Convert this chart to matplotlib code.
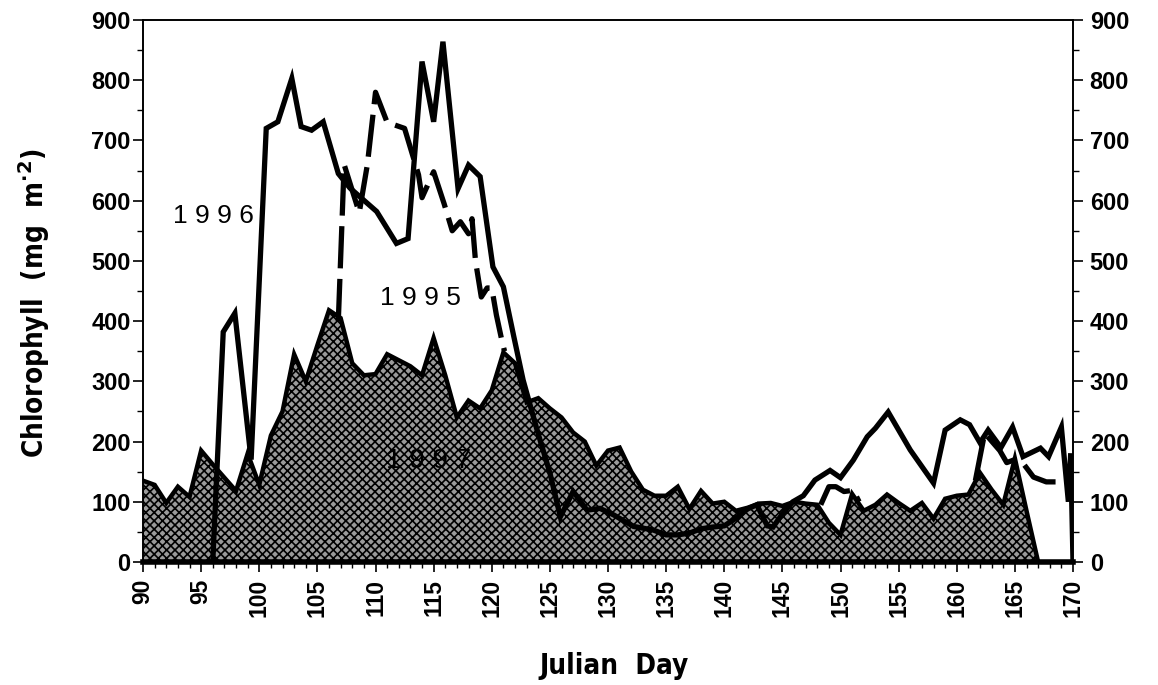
import numpy as np
import matplotlib
matplotlib.use("Agg")
import matplotlib.pyplot as plt
from matplotlib.ticker import MultipleLocator

# ---------------- data ----------------
days_1997 = [90, 91, 92, 93, 94, 95, 96, 97, 98, 99, 100, 101, 102, 103, 104, 105,
             106, 107, 108, 109, 110, 111, 112, 113, 114, 115, 116, 117, 118, 119,
             120, 121, 122, 123, 124, 125, 126, 127, 128, 129, 130, 131, 132, 133,
             134, 135, 136, 137, 138, 139, 140, 141, 142, 143, 144, 145, 146, 147,
             148, 149, 150, 151, 152, 153, 154, 155, 156, 157, 158, 159, 160, 161,
             162, 163, 164, 165, 166, 167]
chl_1997 = [135, 128, 98, 125, 108, 185, 162, 140, 118, 180, 128, 210, 250, 345, 300, 360,
            418, 405, 330, 310, 312, 345, 335, 325, 310, 372, 310, 240, 268, 255,
            285, 348, 330, 265, 272, 255, 240, 215, 200, 160, 185, 190, 150, 120,
            110, 110, 125, 88, 118, 97, 100, 85, 90, 97, 98, 93, 100, 97,
            95, 65, 45, 113, 85, 95, 112, 98, 85, 98, 72, 105, 110, 112,
            148, 120, 95, 172, 85, 0]

days_1996 = [96.0, 96.9, 97.9, 99.3, 100.6, 101.6, 102.8, 103.6, 104.5, 105.5, 106.8,
             107.8, 108.8, 110.1, 111.8, 112.8, 114.0, 115.0, 115.8, 117.1, 118.0,
             119.0, 120.1, 121.0, 121.9, 122.7, 123.9, 125.0, 125.9, 127.0, 128.2,
             129.3, 130.5, 132.2, 133.9, 135.0, 136.0, 137.0, 138.0, 139.0, 140.0,
             140.8, 142.0, 142.8, 143.7, 144.2, 145.0, 145.9, 146.8, 147.8, 149.1,
             150.0, 151.1, 152.3, 153.0, 154.1, 156.0, 158.0, 159.0, 160.3, 161.1,
             162.0, 162.7, 163.8, 164.8, 165.7, 167.2, 167.9, 169.0, 169.6, 169.8, 170.0]
chl_1996 = [0, 382, 413, 170, 720, 731, 803, 723, 717, 731, 645,
            621, 604, 582, 529, 537, 831, 731, 864, 620, 659,
            640, 490, 457, 374, 302, 219, 148, 75, 117, 86,
            89, 78, 59, 53, 45, 45, 48, 55, 58, 60,
            70, 88, 95, 60, 58, 80, 100, 110, 136, 152,
            140, 169, 208, 222, 249, 186, 131, 219, 236, 228,
            198, 219, 190, 224, 175, 189, 175, 224, 100, 180, 0]

days_1995 = [106.8, 107.3, 108.6, 109.3, 110.0, 111.0, 112.5, 113.7, 114.0, 115.0,
             115.9, 116.6, 117.3, 118.0, 118.3, 118.6, 119.1, 119.6, 120.0, 120.4,
             120.9, 121.1,
             np.nan,
             148.3, 149.0, 149.6, 150.3, 151.1, 151.6,
             np.nan,
             161.6, 162.4, 163.7, 164.3, 165.0, 165.7, 166.6, 167.7, 168.5]
chl_1995 = [400, 660, 580, 660, 780, 730, 720, 643, 605, 648,
            595, 550, 565, 545, 570, 500, 440, 455, 455, 410,
            365, 350,
            np.nan,
            95, 125, 125, 117, 119, 100,
            np.nan,
            135, 214, 185, 165, 170, 164, 141, 133, 133]

year_labels = ["1996", "1995", "1997"]
label_pos = [(96.1, 575), (113.9, 438), (114.6, 168)]

x_ticks = list(range(90, 171, 5))
y_ticks = list(range(0, 901, 100))

# ---------------- figure ----------------
plt.rcParams['font.family'] = ['Liberation Sans', 'DejaVu Sans']
plt.rcParams['hatch.linewidth'] = 1.2

fig = plt.figure(figsize=(11.58, 6.85), dpi=100)
ax = fig.add_axes([0.1235, 0.1796, 0.8031, 0.7912])

# 1997 filled area
ax.fill_between(days_1997, chl_1997, 0, facecolor='#9a9a9a', edgecolor='black',
                hatch='xxxx', linewidth=0, zorder=2)
ax.plot(days_1997, chl_1997, color='black', lw=3.2, zorder=3,
        solid_joinstyle='miter')

# 1995 dashed
ax.plot(days_1995, chl_1995, color='black', lw=3.8, zorder=4,
        linestyle=(0, (8, 2)), dash_capstyle='butt')

# 1996 solid
ax.plot(days_1996, chl_1996, color='black', lw=3.8, zorder=5,
        solid_joinstyle='miter')

# year labels
for txt, (xx, yy) in zip(year_labels, label_pos):
    ax.text(xx, yy, ' '.join(list(txt)), fontsize=19 if txt != '1997' else 20,
            ha='center', va='center', color='black',
            fontweight='normal' if txt != '1997' else 'medium', zorder=6)

ax.set_xlim(90, 170)
ax.set_ylim(0, 900)
ax.set_xticks(x_ticks)
ax.set_yticks(y_ticks)
ax.xaxis.set_minor_locator(MultipleLocator(1))
ax.yaxis.set_minor_locator(MultipleLocator(50))
ax.tick_params(axis='x', which='major', length=7, width=1.2, direction='out',
               labelsize=16.5, rotation=90, pad=5)
ax.tick_params(axis='x', which='minor', length=4, width=1.0, direction='out')
ax.tick_params(axis='y', which='major', length=7, width=1.2, direction='out',
               labelsize=17, pad=2)
ax.tick_params(axis='y', which='minor', length=4, width=1.0, direction='out')
for lab in ax.get_xticklabels() + ax.get_yticklabels():
    lab.set_fontweight('bold')

for side in ['left', 'top', 'right']:
    ax.spines[side].set_linewidth(1.2)
ax.spines['bottom'].set_linewidth(4)

ax2 = ax.twinx()
ax2.set_ylim(0, 900)
ax2.set_yticks(y_ticks)
ax2.yaxis.set_minor_locator(MultipleLocator(50))
ax2.tick_params(axis='y', which='major', length=7, width=1.2, direction='out',
                labelsize=17, pad=5)
ax2.tick_params(axis='y', which='minor', length=4, width=1.0, direction='out')
for lab in ax2.get_yticklabels():
    lab.set_fontweight('bold')
for side in ['left', 'top', 'right']:
    ax2.spines[side].set_linewidth(1.2)
ax2.spines['bottom'].set_visible(False)

ax.set_ylabel(r'Chlorophyll  (mg  m$^{\mathbf{\cdot2}}$)', fontsize=20,
              fontweight='bold', family='DejaVu Sans', fontstretch='condensed')
ax.yaxis.set_label_coords(-0.098, 0.478)
ax.set_xlabel('Julian  Day', fontsize=20, fontweight='bold',
              family='DejaVu Sans', fontstretch='condensed')
ax.xaxis.set_label_coords(0.507, -0.166)

fig.savefig('out.png', dpi=100)
